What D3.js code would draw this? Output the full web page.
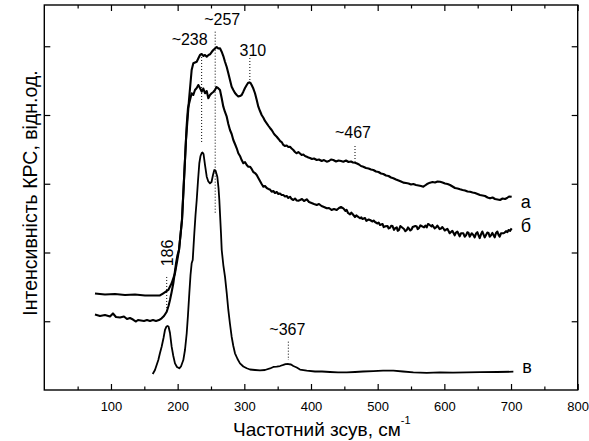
<!DOCTYPE html>
<html>
<head>
<meta charset="utf-8">
<script src="https://cdn.jsdelivr.net/npm/d3@7"></script>
<style>
  body { margin: 0; background: #fff; }
  text { font-family: "Liberation Sans", Arial, sans-serif; fill: #000; }
</style>
</head>
<body>
<div class="raman_chart"></div>
<script>
// Raman spectra, [wavenumber cm-1, intensity a.u.]
const seriesA = [
  [76,140.4],[91,138.9],[106,139.6],[121,138.2],[136,138.9],[151,137.5],[166,137.5],[173.5,137.5],
  [178.5,140.7],[186,145.5],[191,155.2],[196,169.7],[199.5,189.1],[202,203.6],[206.5,247.3],[212.5,363.6],
  [217,421.8],[221,465.5],[223.5,475.2],[228.6,477.5],[231.3,482.9],[233.5,487.3],[236,488.7],[238.8,485.8],
  [241,487.3],[243.6,484.8],[246.3,487.3],[248.5,488.3],[251,491.6],[253.5,494.5],[256,496.7],[258.6,498.9],
  [261,496.7],[263.5,497],[266,492.1],[268.5,485.8],[271,477.5],[273.6,469.8],[276,460.6],[278.5,450.9],
  [281,441.2],[283.5,436.4],[286,432],[288.6,429.1],[291,426.9],[293.5,427.6],[296,429.1],[298.5,433.9],
  [301,439.3],[303.6,443.6],[305.5,446.5],[307.5,447.5],[309.3,446.5],[311,443.6],[313.5,438.5],[316,431.6],
  [318.6,421.8],[321,412.1],[323.5,405.8],[326,400],[328.8,395.6],[331,391.3],[333.6,387.9],[336.3,384],
  [338.5,381.1],[341,378.2],[343.8,373.8],[346,370.9],[348.6,368.4],[351.3,365.1],[353.5,362.2],[356,360.7],
  [358.5,356.4],[361,354.9],[363.6,355.6],[366,353.5],[368.5,353.9],[371,351.3],[373.5,349.1],[376,346.2],
  [378.6,344.3],[381,346.2],[383.5,344],[386,341.8],[388.5,342.5],[391,340.4],[393.6,339.4],[396,338.2],
  [398.5,337.5],[401.5,336],[404.5,336.7],[408.6,334.5],[412,335.3],[416,333.1],[419.5,334.5],[423.6,332.1],
  [427,333.1],[430,335.3],[433.5,334.5],[437.5,332.4],[441.3,333.8],[445,333.1],[448.5,332.1],[452.5,333.8],
  [456.3,331.6],[460,332.4],[463,330.9],[466,330.6],[469,329.5],[472,328],[475,325.8],[478.5,324.8],
  [482.5,322.9],[486.3,322.2],[490,320.7],[493.5,320],[497.5,317.8],[501.3,317.1],[505,314.9],[508.5,314.2],
  [512.5,312],[516.3,311.3],[520,309.1],[523.5,308],[527.5,306.2],[531.3,304.7],[535,303.3],[538.5,301.6],
  [542.5,301.1],[546.3,300.4],[550,298.9],[553.5,299.6],[557.5,298.2],[561.3,297.5],[565,296.7],[568.5,295.7],
  [571,297.5],[574,299.6],[578.5,301.6],[582.3,302.5],[586,301.8],[589.8,303.3],[593.5,302.9],[597.3,301.8],
  [601,300.4],[604.8,299.6],[608.5,298.2],[612.3,296],[616,293.8],[619.8,293.1],[623.5,291.9],[627.3,290.9],
  [631,290.2],[634.8,288.7],[638.5,288.4],[642.3,287.3],[646,286.5],[649.8,285.1],[653.5,283.6],[657.3,282.9],
  [661,282.2],[664.8,280],[668.5,278.8],[672.3,280],[676,277.8],[679.8,277.1],[683.5,276.4],[687.3,278.5],
  [691,277.8],[694,279.3],[697,281.5],[701,281.1]
];

const seriesB = [
  [76,109.8],[83.5,107.6],[91,109.1],[98.5,106.9],[103,111.3],[107.5,106.2],[113.5,105.5],[119.5,106.9],
  [124,103.3],[128.5,104.7],[133,102.5],[137.5,99.6],[140.5,101.8],[145,101.1],[149.5,100.4],[154,101.8],
  [158.5,100.4],[163,101.8],[167.5,100.4],[172,101.8],[176,104.3],[179.5,107.6],[183.6,113.9],[186.3,122.2],
  [188.5,130.9],[191,142.5],[193.5,155.2],[195.6,170.2],[197.6,184.3],[199.8,196.4],[202,203.6],[206.5,247.3],
  [211,334.5],[213.6,385.5],[215.5,410.2],[218.5,421.8],[221,431.6],[223.5,429.1],[226,436.4],[228.6,439.3],
  [231,443.6],[233.5,439.3],[236,433.9],[238.5,438.5],[241,431.6],[243.6,434.9],[246,424.3],[248.5,429.1],
  [251,431.6],[253.5,433.5],[256,436.4],[258.3,440.7],[260.5,439.3],[263.5,436.4],[266,424.7],[268.5,412.1],
  [271,404.4],[273.6,397.5],[276,386.9],[278.5,378.2],[281,372.4],[283.5,363.6],[286,357.8],[288.6,351.6],
  [291,344.3],[293.5,340.4],[296,334.5],[298.5,329.8],[301,331.6],[303.6,327.3],[306,324.8],[308.5,324.8],
  [311,321.5],[313.5,317.1],[316,315.6],[318.6,312.7],[321,308.4],[323.5,304],[326,299.6],[328.5,295.7],
  [331,296.7],[333.6,293.8],[336,292.4],[338.5,291.6],[341,288.4],[343.5,289.5],[346,286.5],[348.6,288],
  [351,285.1],[353.5,285.8],[356,283.6],[358.5,283.6],[361,281.5],[363.6,282.2],[366,279.3],[368.5,281.1],
  [371,277.8],[373.5,276.4],[376,278.5],[378.6,275.6],[381,275.3],[383.5,276.4],[386.5,277.8],[389.5,274.9],
  [393.6,277.4],[397,273.5],[400.8,272],[404.5,270.5],[408.6,269.1],[412,270.5],[415.8,267.6],[419.5,266.2],
  [423.6,264.3],[427,264.7],[430.8,261.8],[434.5,263.3],[438.6,261.8],[442,264.7],[445,266.2],[448.5,264.3],
  [451.8,260.4],[453.5,262],[455.5,257.5],[458.5,255.5],[460.5,258],[462.3,256],[466,251.6],[468,254],
  [469.8,252.4],[473.5,249.8],[475.5,251],[477.3,248.7],[481,250.2],[483,246],[486.5,248],[488.5,247.3],
  [492.3,245.1],[494,246.5],[496,244.4],[499.8,242.2],[501.5,243.5],[503.5,240],[507.3,241.5],[509,237],
  [511,238],[514.8,238.5],[516.5,235],[518.5,236],[520.5,239],[522.3,238.5],[524.5,233],[526.5,235.5],
  [528.6,236.6],[530,231.5],[532,233],[534,238.5],[535.8,237.1],[539.5,234.2],[541.5,231],[543.6,232.7],
  [545.5,236.5],[549,232],[550.8,233.5],[552.5,237],[556.5,238.5],[558.6,237.8],[560,234],[562,235.6],
  [564,239.5],[565.8,238.5],[569.5,236.6],[571.5,239],[573.6,236.6],[575.5,241.5],[577,240.7],[580.8,237.8],
  [582,240],[585.5,235],[587.5,236.4],[589.5,239],[593,234],[595,234.9],[597,237],[598.5,235.2],
  [600.5,232],[604.5,234.5],[606.3,231.3],[608,228],[610,229.8],[612,231.5],[615.5,225],[617.5,229],
  [619.5,230.5],[621.3,226.9],[623,223.5],[625,228],[628.5,227.9],[630.5,223],[632.5,225],[634.5,229.5],
  [636.3,228.4],[638,223],[641,228],[643.5,225.5],[645.5,222],[647.5,227.5],[649.5,229.5],[651.3,225],
  [653,221],[655,226.5],[657,230.5],[660.5,222],[662.5,225.5],[664.5,229],[666.3,228.4],[668,223],
  [670,225],[672,228.5],[675.5,222],[677.5,228.5],[679.5,230.5],[681.3,225.5],[683,223],[685,228],
  [688.5,227.9],[690.5,229],[692.5,231],[694.5,229.5],[696.3,232.7],[698.5,231.5],[701,235.2]
];

const seriesV = [
  [162.6,23.3],[166,29.1],[171,43.6],[173.5,53.8],[176,63],[178.8,75.6],[181,87.3],[183.3,92.4],
  [184.8,93.1],[186.3,92.4],[188.5,82.9],[191,63],[193.5,49.5],[196,38.8],[199,33.5],[202.5,31.6],
  [205,34.2],[208.5,43.6],[211,58.2],[213.6,82.5],[215.5,109.1],[217.5,140.7],[219.3,167.3],[221,184.3],
  [222.6,189.1],[225,227.9],[226.8,254.5],[228.6,276.4],[230.6,305.4],[232.5,329.8],[234.3,340.4],[236.1,344.7],
  [237.3,345.5],[238.8,343.3],[241,327.3],[243.6,310.2],[246,303.3],[248.5,300.7],[250.8,302.5],[253,312.7],
  [255,320],[256.8,319.3],[259.5,310.2],[261.3,293.8],[262.5,276.4],[264,247.3],[265,227.9],[266.1,203.6],
  [268.5,181.8],[271,164.8],[273.6,141.1],[276,116.4],[278.5,96],[281,77.5],[283.5,64],[286,53.4],
  [289.8,45.1],[293.5,38.8],[298.5,34.2],[303.6,31.6],[308.5,29.8],[316,29.1],[323.5,28.4],[331,29.1],
  [338.5,31.3],[343.5,33.5],[348.6,33.9],[353.5,34.9],[358.5,36.4],[361.8,37.5],[366,37.8],[370,37.1],
  [373.5,34.9],[378.6,32.7],[383.5,29.8],[393.6,28.1],[406,26.9],[416.5,26.9],[428.5,26.2],[440.5,25.7],
  [453.6,25.7],[466,26.2],[478,26.9],[493.5,27.6],[508,28.1],[523.5,28.1],[538,26.9],[553.5,25.5],
  [573.6,25],[593.5,25.5],[613,25.2],[633.6,25.7],[653.5,25.9],[679,26.2],[703.5,26.6]
];

const curveNames = ["а", "б", "в"];
const xTicks = [100, 200, 300, 400, 500, 600, 700, 800];
const xMinor = [50, 150, 250, 350, 450, 550, 650, 750];
const yTicks = [100, 200, 300, 400, 500];

// peak marks: label, wavenumber, dotted line from..to (intensity)
const peakLabels = ["~238", "~257", "310", "~467", "186", "~367"];
const peakPos = [236, 256.3, 308.3, 466, 183.6, 366];
const peakFrom = [484.4, 521.2, 482.9, 354.9, 164.4, 70.3];
const peakTo = [359.3, 257, 449.5, 332.1, 112, 43.6];

const width = 589, height = 441;
const svg = d3.select(".raman_chart")
  .append("svg")
  .attr("width", width)
  .attr("height", height);

const x = d3.scaleLinear().domain([0, 800]).range([44.3, 577.7]);
const y = d3.scaleLinear().domain([0, 560]).range([390, 5]);

// frame + inward ticks
svg.append("g")
  .attr("transform", "translate(0,390)")
  .call(d3.axisBottom(x).tickValues(xTicks).tickSize(-6).tickPadding(12))
  .call(g => g.select(".domain").remove())
  .call(g => g.selectAll("text").style("font-size", "13px"));

svg.append("g")
  .attr("transform", "translate(0,390)")
  .call(d3.axisBottom(x).tickValues(xMinor).tickSize(-3.5).tickFormat(""))
  .call(g => g.select(".domain").remove());

svg.append("g")
  .attr("transform", "translate(0,5)")
  .call(d3.axisTop(x).tickValues(xTicks).tickSize(-6).tickFormat(""))
  .call(g => g.select(".domain").remove());

svg.append("g")
  .attr("transform", "translate(0,5)")
  .call(d3.axisTop(x).tickValues(xMinor).tickSize(-3.5).tickFormat(""))
  .call(g => g.select(".domain").remove());

svg.append("g")
  .attr("transform", "translate(44.3,0)")
  .call(d3.axisLeft(y).tickValues(yTicks).tickSize(-6).tickFormat(""))
  .call(g => g.select(".domain").remove());

svg.append("g")
  .attr("transform", "translate(577.7,0)")
  .call(d3.axisRight(y).tickValues(yTicks).tickSize(-6).tickFormat(""))
  .call(g => g.select(".domain").remove());

svg.selectAll(".tick line").attr("stroke", "#000").attr("stroke-width", 1.2);

svg.append("rect")
  .attr("x", x(0)).attr("y", y(560))
  .attr("width", x(800) - x(0)).attr("height", y(0) - y(560))
  .attr("fill", "none").attr("stroke", "#000").attr("stroke-width", 1.4);

// curves
const line = d3.line().x(d => x(d[0])).y(d => y(d[1]));
[seriesA, seriesB, seriesV].forEach((s, i) => {
  svg.append("path")
    .datum(s)
    .attr("d", line)
    .attr("fill", "none")
    .attr("stroke", "#000")
    .attr("stroke-width", i == 2 ? 1.8 : 2.1)
    .attr("stroke-linejoin", "round");
});

// dotted peak markers
peakPos.forEach((p, i) => {
  svg.append("line")
    .attr("x1", x(p)).attr("x2", x(p))
    .attr("y1", y(peakFrom[i])).attr("y2", y(peakTo[i]))
    .attr("stroke", "#000").attr("stroke-width", 1)
    .attr("stroke-dasharray", "1,2");
});

// peak labels (offsets from marker top)
const labelDx = [-12, 7, 3, -2, 6, -1];
const labelDy = [-12, -7, -2, -8.5, 0, -7];
peakLabels.forEach((t, i) => {
  const lx = x(peakPos[i]) + labelDx[i], ly = y(peakFrom[i]) + labelDy[i];
  const txt = svg.append("text")
    .style("font-size", "16px")
    .attr("text-anchor", "middle")
    .text(t);
  if (t == "186") {
    txt.attr("transform", `translate(${lx},${ly - 24}) rotate(-90)`);
  } else {
    txt.attr("x", lx).attr("y", ly);
  }
});

// curve names
const nameAt = [[seriesA, 208], [seriesB, 232], [seriesV, 373]];
curveNames.forEach((n, i) => {
  const s = nameAt[i][0];
  svg.append("text")
    .attr("x", x(s[s.length - 1][0]) + 9)
    .attr("y", nameAt[i][1])
    .style("font-size", "18px")
    .text(n);
});

// axis titles
const xt = svg.append("text")
  .attr("x", 233).attr("y", 436)
  .style("font-size", "19px")
  .text("Частотний зсув, см");
xt.append("tspan").attr("dy", -12).style("font-size", "11px").text("-1");

svg.append("text")
  .attr("transform", "translate(37,193) rotate(-90)")
  .attr("text-anchor", "middle")
  .style("font-size", "19.5px")
  .text("Інтенсивність КРС, відн.од.");
</script>
</body>
</html>
